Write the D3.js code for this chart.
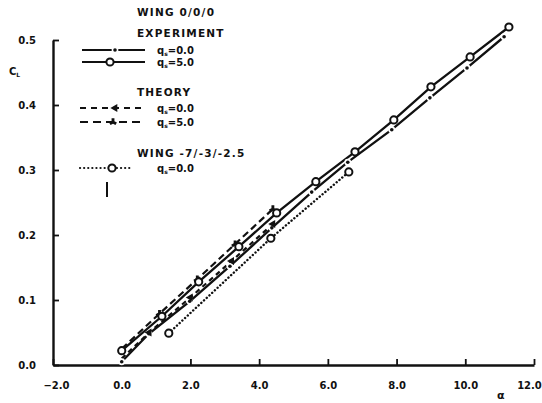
<!DOCTYPE html>
<html>
<head>
<meta charset="utf-8">
<script src="https://cdn.jsdelivr.net/npm/d3@7"></script>
<style>
  body { margin: 0; background: #fff; }
  svg text { font-family: "DejaVu Sans", sans-serif; font-weight: bold; fill: #111; }
</style>
</head>
<body>
<script>
// tick labels
const xTicks = [-2, 0, 2, 4, 6, 8, 10, 12];
const yTicks = [0, 0.1, 0.2, 0.3, 0.4, 0.5];

// WING 0/0/0 experiment, q=0.0
const expQ0Alpha = [0, 0.79, 1.98, 3.15, 4.37, 5.53, 6.58, 7.86, 8.97, 10.05, 11.13];
const expQ0Cl = [0.005, 0.048, 0.098, 0.152, 0.211, 0.266, 0.312, 0.362, 0.411, 0.457, 0.505];
// WING 0/0/0 experiment, q=5.0
const expQ5Alpha = [0, 1.17, 2.24, 3.41, 4.51, 5.65, 6.79, 7.92, 9.0, 10.14, 11.27];
const expQ5Cl = [0.022, 0.075, 0.128, 0.182, 0.234, 0.282, 0.328, 0.377, 0.428, 0.474, 0.52];
// theory
const thQ0Alpha = [0, 0.8, 2.0, 3.2, 4.4];
const thQ0Cl = [0.010, 0.050, 0.104, 0.160, 0.217];
const thQ5Alpha = [0, 1.1, 2.2, 3.3, 4.4];
const thQ5Cl = [0.025, 0.079, 0.132, 0.186, 0.240];
// WING -7/-3/-2.5, q=0.0
const wingAlpha = [1.37, 4.34, 6.61];
const wingCl = [0.049, 0.195, 0.297];

const width = 542, height = 403;
const ink = "#111";

const zip = (a, b) => a.map((v, i) => [v, b[i]]);

const svg = d3.select("body").append("svg")
    .attr("width", width)
    .attr("height", height);

const x = d3.scaleLinear().domain([-2, 12]).range([53, 534]);
const y = d3.scaleLinear().domain([0, 0.5]).range([365, 40]);

const line = d3.line().x(d => x(d[0])).y(d => y(d[1]));

// axes
const xAxis = svg.append("g")
    .attr("transform", `translate(0,${y(0)})`)
    .call(d3.axisBottom(x).tickValues(xTicks).tickFormat(d3.format(".1f"))
        .tickSizeInner(-6).tickSizeOuter(0).tickPadding(17));

const yAxis = svg.append("g")
    .attr("transform", `translate(${x(-2)},0)`)
    .call(d3.axisLeft(y).tickValues(yTicks).tickFormat(d3.format(".1f"))
        .tickSizeInner(-6).tickSizeOuter(0).tickPadding(17));

[xAxis, yAxis].forEach(g => {
    g.select(".domain").attr("stroke", ink).attr("stroke-width", 2.4);
    g.selectAll(".tick line").attr("stroke", ink).attr("stroke-width", 1.8);
    g.selectAll(".tick text").attr("font-size", 10).style("fill", ink);
});
// last x label sits against the right edge, as in the scan
xAxis.selectAll(".tick text").filter(d => d === 12).attr("dx", -5);
xAxis.selectAll(".tick text").filter(d => d === -2).attr("dx", 3);

// axis titles
const cl = svg.append("text").attr("x", 9).attr("y", 75).attr("font-size", 10);
cl.append("tspan").text("C");
cl.append("tspan").attr("font-size", 6).attr("dy", 2).text("L");

svg.append("text").attr("x", 497).attr("y", 399).attr("font-size", 11).text("α");

// series lines
const drawLine = (pts, dash, w) => svg.append("path")
    .datum(pts)
    .attr("d", line)
    .attr("fill", "none")
    .attr("stroke", ink)
    .attr("stroke-width", w)
    .attr("stroke-linecap", dash === "dot" ? "round" : "butt")
    .attr("stroke-dasharray", dash === "dot" ? "0.1,3.6" : dash);

const wing = zip(wingAlpha, wingCl);
const thQ0 = zip(thQ0Alpha, thQ0Cl);
const thQ5 = zip(thQ5Alpha, thQ5Cl);
const expQ0 = zip(expQ0Alpha, expQ0Cl);
const expQ5 = zip(expQ5Alpha, expQ5Cl);

drawLine(wing, "dot", 2.4);
drawLine(thQ0, "5,4", 2.2);
drawLine(thQ5, "7,4", 2.2);
drawLine(expQ0, null, 2.3);
drawLine(expQ5, null, 2.3);

// markers
const dotMark = (g, px, py) => {
    g.append("circle").attr("cx", px).attr("cy", py).attr("r", 3.4).attr("fill", "#fff");
    g.append("circle").attr("cx", px).attr("cy", py).attr("r", 1.8).attr("fill", ink);
};
const ringMark = (g, px, py) => {
    g.append("circle").attr("cx", px).attr("cy", py).attr("r", 3.6)
        .attr("fill", "#fff").attr("stroke", ink).attr("stroke-width", 2);
};
const symMark = (g, px, py, type, rot) => {
    g.append("path")
        .attr("d", d3.symbol().type(type).size(28)())
        .attr("transform", `translate(${px},${py}) rotate(${rot})`)
        .attr("fill", ink);
};

const marks = svg.append("g");
expQ0.forEach(d => dotMark(marks, x(d[0]), y(d[1])));
thQ0.slice(1).forEach(d => symMark(marks, x(d[0]), y(d[1]), d3.symbolTriangle, -90));
thQ5.slice(1).forEach(d => symMark(marks, x(d[0]), y(d[1]), d3.symbolWye, 180));
expQ5.forEach(d => ringMark(marks, x(d[0]), y(d[1])));
wing.forEach(d => ringMark(marks, x(d[0]), y(d[1])));

// legend
const legend = svg.append("g");
const heading = (txt, ty) => legend.append("text")
    .attr("x", 137).attr("y", ty)
    .attr("font-size", 10.5)
    .attr("letter-spacing", 1.2)
    .text(txt);

const qLabel = (val, ty) => {
    const t = legend.append("text").attr("x", 157).attr("y", ty + 3.6).attr("font-size", 10);
    t.append("tspan").text("q");
    t.append("tspan").attr("font-size", 6).attr("dy", 2).text("s");
    t.append("tspan").attr("dy", -2).text("=" + val);
};

const sample = (ty, dash, x0, x1) => legend.append("line")
    .attr("x1", x0).attr("x2", x1).attr("y1", ty).attr("y2", ty)
    .attr("stroke", ink).attr("stroke-width", 2.2)
    .attr("stroke-linecap", dash === "dot" ? "round" : "butt")
    .attr("stroke-dasharray", dash === "dot" ? "0.1,4" : dash);

heading("WING 0/0/0", 16);
heading("EXPERIMENT", 37);
sample(50, null, 82, 145); dotMark(legend, 115, 50); qLabel("0.0", 50);
sample(62, null, 82, 145); ringMark(legend, 110, 62); qLabel("5.0", 62);

heading("THEORY", 96);
sample(108, "6,5", 80, 143); symMark(legend, 115, 108, d3.symbolTriangle, -90); qLabel("0.0", 108);
sample(122, "8,5", 80, 143); symMark(legend, 113, 122, d3.symbolWye, 180); qLabel("5.0", 122);

heading("WING -7/-3/-2.5", 157);
sample(168, "dot", 80, 132); ringMark(legend, 112, 168); qLabel("0.0", 168);

legend.append("line").attr("x1", 107).attr("x2", 107).attr("y1", 182).attr("y2", 197)
    .attr("stroke", ink).attr("stroke-width", 2);
</script>
</body>
</html>
